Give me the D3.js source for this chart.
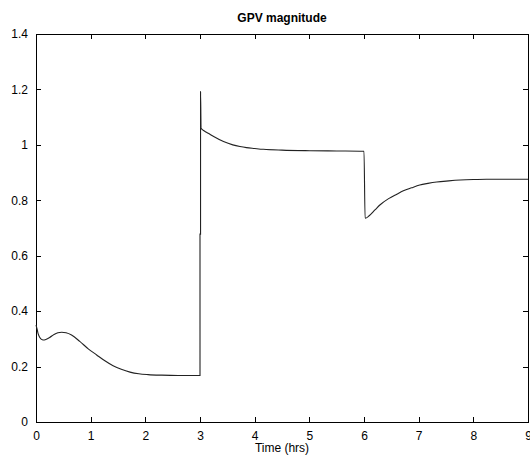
<!DOCTYPE html>
<html><head><meta charset="utf-8">
<script src="https://cdn.jsdelivr.net/npm/d3@7"></script>
<style>body{margin:0;background:#fff;} text{font-family:"Liberation Sans",Arial,sans-serif;}</style>
</head><body>
<svg id="chart" width="530" height="463"></svg>
<script>
const title = "GPV magnitude";
const xLabel = "Time (hrs)";
const xTicks = [0,1,2,3,4,5,6,7,8,9];
const yTicks = [0,0.2,0.4,0.6,0.8,1,1.2,1.4];
const timeHrs = [0,0.02,0.04,0.07,0.1,0.13,0.18,0.25,0.33,0.4,0.47,0.55,0.65,0.8,0.95,1.11,1.26,1.41,1.56,1.72,1.88,2.05,2.3,2.6,2.99,
  3.0,3.0,3.01,3.01,3.02,3.08,3.15,3.25,3.43,3.6,3.73,3.85,4.0,4.16,4.5,5.01,5.5,5.99,
  6.0,6.02,6.1,6.2,6.29,6.45,6.6,6.72,6.87,7.02,7.17,7.33,7.55,7.76,8.0,8.24,8.6,9.0];
const gpv = [0.35,0.335,0.318,0.305,0.298,0.296,0.298,0.305,0.316,0.322,0.324,0.322,0.314,0.291,0.265,0.242,0.221,0.203,0.19,0.18,0.174,0.171,0.169,0.168,0.168,
  0.168,0.678,0.678,1.192,1.06,1.05,1.042,1.03,1.012,1.0,0.994,0.99,0.987,0.984,0.981,0.979,0.978,0.977,
  0.977,0.735,0.745,0.765,0.783,0.806,0.822,0.834,0.845,0.855,0.861,0.866,0.87,0.873,0.875,0.876,0.876,0.876];

const svg = d3.select("#chart");
const L = 36, R = 528, T = 34, B = 422;
const x = d3.scaleLinear().domain([0,9]).range([L,R]);
const y = d3.scaleLinear().domain([0,1.4]).range([B,T]);

const g = svg.append("g");
g.append("rect").attr("x",L).attr("y",T).attr("width",R-L).attr("height",B-T)
  .attr("fill","#fff").attr("stroke","#000").attr("stroke-width",1).attr("shape-rendering","crispEdges");

function styleAxis(sel){
  sel.select(".domain").remove();
  sel.selectAll(".tick line").attr("stroke","#000").attr("shape-rendering","crispEdges");
  sel.selectAll(".tick text").attr("fill","#000").style("font-size","12px")
     .style("font-family","'Liberation Sans',Arial,sans-serif");
}
const fmt = d => d3.format("")(+d.toFixed(1));
g.append("g").attr("transform",`translate(0,${B})`)
  .call(d3.axisBottom(x).tickValues(xTicks).tickSize(-5).tickPadding(9).tickFormat(d=>d))
  .call(styleAxis);
g.append("g").attr("transform",`translate(0,${T})`)
  .call(d3.axisTop(x).tickValues(xTicks).tickSize(-5).tickFormat(""))
  .call(styleAxis);
g.append("g").attr("transform",`translate(${L},0)`)
  .call(d3.axisLeft(y).tickValues(yTicks).tickSize(-5).tickPadding(8).tickFormat(fmt))
  .call(styleAxis);
g.append("g").attr("transform",`translate(${R},0)`)
  .call(d3.axisRight(y).tickValues(yTicks).tickSize(-5).tickFormat(""))
  .call(styleAxis);

const data = timeHrs.map((t,i)=>({t, v:gpv[i]}));
const line = d3.line().x(d=>x(d.t)).y(d=>y(d.v)).curve(d3.curveMonotoneX);
g.append("path").datum(data).attr("d",line).attr("fill","none")
  .attr("stroke","#222").attr("stroke-width",1.1);

svg.append("text").attr("x",(L+R)/2).attr("y",22).attr("text-anchor","middle")
  .style("font-size","12px").style("font-weight","bold").text(title);
svg.append("text").attr("x",(L+R)/2).attr("y",452).attr("text-anchor","middle")
  .style("font-size","12px").text(xLabel);
</script>
</body></html>
